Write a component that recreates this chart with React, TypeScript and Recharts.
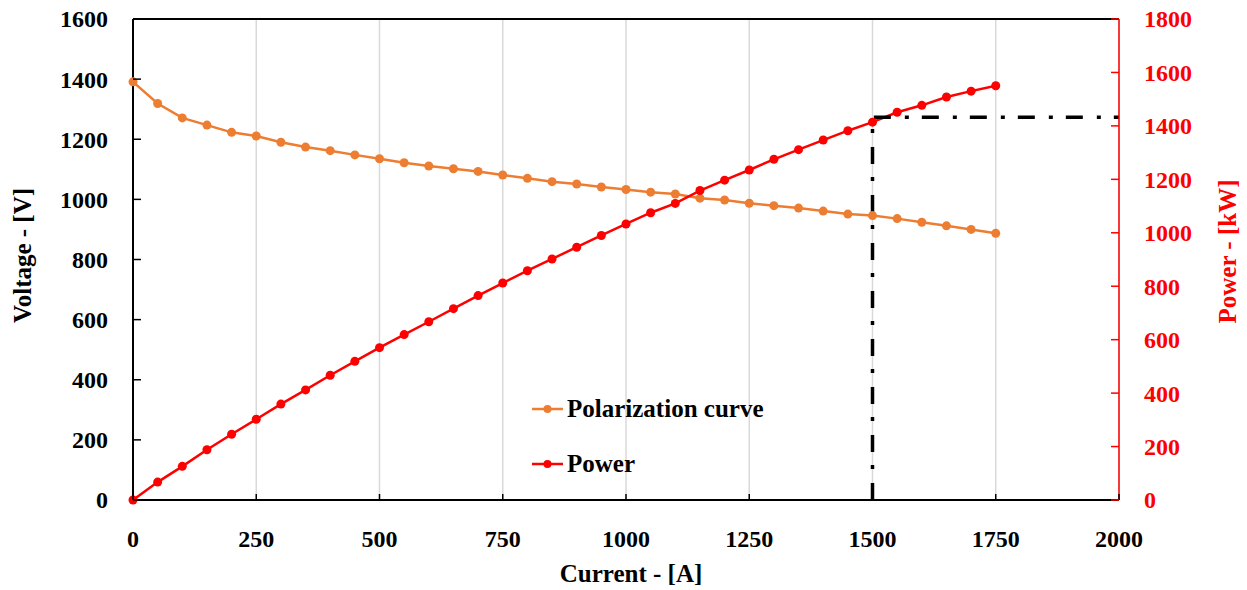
import React from 'react';
import { LineChart, Line, XAxis, YAxis, CartesianGrid, Legend, ReferenceLine } from 'recharts';

const current = [0, 50, 100, 150, 200, 250, 300, 350, 400, 450, 500, 550, 600, 650, 700, 750, 800, 850, 900, 950, 1000, 1050, 1100, 1150, 1200, 1250, 1300, 1350, 1400, 1450, 1500, 1550, 1600, 1650, 1700, 1750];
const voltage = [1391, 1319, 1271, 1247, 1223, 1211, 1190, 1174, 1162, 1148, 1135, 1122, 1111, 1102, 1093, 1081, 1070, 1059, 1051, 1041, 1033, 1024, 1018, 1004, 998, 987, 979, 971, 961, 951, 946, 936, 924, 912, 900, 887];
const power = [0, 67, 126, 188, 246, 302, 359, 412, 467, 519, 570, 619, 667, 716, 765, 812, 858, 902, 946, 990, 1033, 1075, 1110, 1158, 1197, 1235, 1275, 1311, 1347, 1382, 1414, 1451, 1477, 1508, 1530, 1550];

const xTicks = [0, 250, 500, 750, 1000, 1250, 1500, 1750, 2000];
const leftTicks = [0, 200, 400, 600, 800, 1000, 1200, 1400, 1600];
const rightTicks = [0, 200, 400, 600, 800, 1000, 1200, 1400, 1600, 1800];

const ratedCurrent = [1500, 1500, 2000];
const ratedPower = [0, 1432, 1432];

const data = current.map((c, i) => ({ x: c, v: voltage[i], p: power[i] }));
const ratedData = ratedCurrent.map((c, i) => ({ x: c, r: ratedPower[i] }));

const FONT = '"Liberation Serif", "Times New Roman", serif';
const ORANGE = '#ED7D31';
const RED = '#FF0000';
const TM = 25;

const LeftTick = (props: any) => {
  const { x, y, payload } = props;
  return (
    <g>
      <line x1={x + TM} x2={x + TM + 8} y1={y} y2={y} stroke="#000" strokeWidth={1.5} />
      <text x={x} y={y} dy="0.35em" textAnchor="end" fontFamily={FONT} fontWeight="bold" fontSize={24} fill="#000">
        {payload.value}
      </text>
    </g>
  );
};

const RightTick = (props: any) => {
  const { x, y, payload } = props;
  return (
    <g>
      <line x1={x - TM} x2={x - TM - 8} y1={y} y2={y} stroke={RED} strokeWidth={1.5} />
      <text x={x} y={y} dy="0.35em" textAnchor="start" fontFamily={FONT} fontWeight="bold" fontSize={24} fill={RED}>
        {payload.value}
      </text>
    </g>
  );
};

const XM = 30;
const BottomTick = (props: any) => {
  const { x, y, payload } = props;
  return (
    <g>
      <line x1={x} x2={x} y1={y - XM} y2={y - XM - 6} stroke="#000" strokeWidth={1.5} />
      <text x={x} y={y} dy="0.71em" textAnchor="middle" fontFamily={FONT} fontWeight="bold" fontSize={24} fill="#000">
        {payload.value}
      </text>
    </g>
  );
};

const LeftLabel = (props: any) => {
  const vb = props.viewBox || { x: 0, y: 19, width: 133, height: 481 };
  const cx = vb.x + 22;
  const cy = vb.y + vb.height / 2 - 4;
  return (
    <text x={cx} y={cy} transform={`rotate(-90, ${cx}, ${cy})`} textAnchor="middle" dominantBaseline="central" fontFamily={FONT} fontWeight="bold" fontSize={25} fill="#000">
      Voltage - [V]
    </text>
  );
};

const RightLabel = (props: any) => {
  const vb = props.viewBox || { x: 1119, y: 19, width: 128, height: 481 };
  const cx = vb.x + 108;
  const cy = vb.y + vb.height / 2 - 8;
  return (
    <text x={cx} y={cy} transform={`rotate(-90, ${cx}, ${cy})`} textAnchor="middle" dominantBaseline="central" fontFamily={FONT} fontWeight="bold" fontSize={25} fill={RED}>
      Power - [kW]
    </text>
  );
};

const BottomLabel = (props: any) => {
  const vb = props.viewBox || { x: 133, y: 500, width: 986, height: 90 };
  const cx = vb.x + vb.width / 2 + 5;
  const cy = vb.y + 82;
  return (
    <text x={cx} y={cy} textAnchor="middle" fontFamily={FONT} fontWeight="bold" fontSize={25} fill="#000">
      Current -  [A]
    </text>
  );
};

const renderLegend = (props: any) => {
  const items = (props.payload || []).filter((p: any) => p.type !== 'none');
  return (
    <div>
      {items.map((it: any, i: number) => (
        <div key={i} style={{ display: 'flex', alignItems: 'center', height: 55 }}>
          <svg width={34} height={12} style={{ marginRight: 1 }}>
            <line x1={0} x2={31} y1={6} y2={6} stroke={it.color} strokeWidth={2.5} />
            <circle cx={15.5} cy={6} r={4} fill={it.color} />
          </svg>
          <span style={{ fontFamily: FONT, fontWeight: 'bold', fontSize: 25, color: '#000', whiteSpace: 'nowrap' }}>{it.value}</span>
        </div>
      ))}
    </div>
  );
};

export default function App() {
  return (
    <div style={{ position: 'absolute', left: 0, top: 0, width: 1247, height: 590, background: '#fff' }}>
      <LineChart width={1247} height={590} data={data} margin={{ top: 19, right: 0, bottom: 0, left: 0 }}>
        <CartesianGrid horizontal={false} stroke="#d9d9d9" strokeWidth={1.5} />
        <XAxis
          type="number"
          dataKey="x"
          domain={[0, 2000]}
          ticks={xTicks}
          interval={0}
          height={90}
          stroke="#000"
          strokeWidth={2}
          tickLine={false}
          tickSize={0}
          tickMargin={XM}
          tick={<BottomTick />}
          label={<BottomLabel />}
        />
        <YAxis
          yAxisId="left"
          orientation="left"
          domain={[0, 1600]}
          ticks={leftTicks}
          interval={0}
          width={133}
          stroke="#000"
          strokeWidth={2}
          tickLine={false}
          tickSize={0}
          tickMargin={TM}
          tick={<LeftTick />}
          label={<LeftLabel />}
        />
        <YAxis
          yAxisId="right"
          orientation="right"
          domain={[0, 1800]}
          ticks={rightTicks}
          interval={0}
          width={128}
          stroke={RED}
          strokeWidth={1.5}
          tickLine={false}
          tickSize={0}
          tickMargin={TM}
          tick={<RightTick />}
          label={<RightLabel />}
        />
        <ReferenceLine yAxisId="left" y={1600} stroke="#000" strokeWidth={2} />
        <Line
          yAxisId="left"
          dataKey="v"
          name="Polarization curve"
          stroke={ORANGE}
          strokeWidth={2.5}
          dot={{ r: 4.5, fill: ORANGE, stroke: ORANGE, strokeWidth: 0 }}
          activeDot={false}
          isAnimationActive={false}
        />
        <Line
          yAxisId="right"
          dataKey="p"
          name="Power"
          stroke={RED}
          strokeWidth={2.5}
          dot={{ r: 4.5, fill: RED, stroke: RED, strokeWidth: 0 }}
          activeDot={false}
          isAnimationActive={false}
        />
        <Line
          yAxisId="right"
          data={ratedData}
          dataKey="r"
          name="Rated"
          legendType="none"
          stroke="#000"
          strokeWidth={3.5}
          strokeDasharray="17 14 4 13"
          dot={false}
          activeDot={false}
          isAnimationActive={false}
        />
        <Legend
          layout="vertical"
          align="center"
          verticalAlign="middle"
          content={renderLegend}
          wrapperStyle={{ position: 'absolute', left: 532, top: 381, width: 260 }}
        />
      </LineChart>
    </div>
  );
}
